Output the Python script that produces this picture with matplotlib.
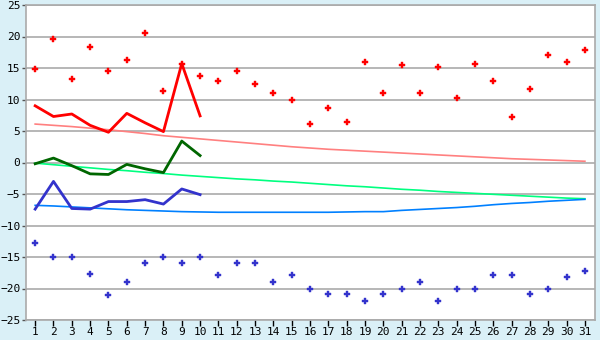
import matplotlib
matplotlib.use("Agg")
import matplotlib.pyplot as plt

days = list(range(1, 32))
obs_days = list(range(1, 11))

max_points = [14.8, 19.6, 13.2, 18.3, 14.6, 16.2, 20.5, 11.4, 15.6, 13.8,
              12.9, 14.6, 12.4, 11.0, 9.9, 6.1, 8.7, 6.4, 15.9, 11.0,
              15.4, 11.0, 15.1, 10.2, 15.7, 13.0, 7.3, 11.7, 17.0, 16.0, 17.9]
min_points = [-12.8, -15.0, -15.0, -17.7, -21.1, -18.9, -16.0, -15.0, -16.0, -15.0,
              -17.9, -16.0, -16.0, -19.0, -17.9, -20.0, -20.9, -20.9, -22.0, -20.9,
              -20.0, -19.0, -22.0, -20.0, -20.0, -17.9, -17.9, -20.9, -20.1, -18.2, -17.3]

max_line = [9.0, 7.3, 7.7, 5.9, 4.8, 7.8, 6.3, 4.9, 15.7, 7.4]
mean_line = [-0.2, 0.7, -0.5, -1.8, -1.9, -0.3, -1.0, -1.6, 3.4, 1.1]
min_line = [-7.4, -3.0, -7.3, -7.4, -6.2, -6.2, -5.9, -6.6, -4.2, -5.1]

norm_max = [6.1, 5.9, 5.7, 5.45, 5.2, 4.9, 4.6, 4.25, 4.0, 3.75,
            3.5, 3.25, 3.0, 2.75, 2.5, 2.3, 2.1, 1.95, 1.8, 1.65,
            1.5, 1.35, 1.2, 1.05, 0.9, 0.75, 0.6, 0.5, 0.4, 0.3, 0.2]
norm_mean = [-0.1, -0.35, -0.6, -0.85, -1.1, -1.3, -1.55, -1.75, -2.0, -2.2,
             -2.4, -2.6, -2.75, -2.95, -3.1, -3.3, -3.5, -3.7, -3.85, -4.05,
             -4.25, -4.4, -4.6, -4.75, -4.9, -5.05, -5.2, -5.35, -5.5, -5.65, -5.75]
norm_min = [-6.8, -6.9, -7.05, -7.2, -7.35, -7.5, -7.6, -7.7, -7.8, -7.85,
            -7.9, -7.9, -7.9, -7.9, -7.9, -7.9, -7.9, -7.85, -7.8, -7.8,
            -7.6, -7.45, -7.3, -7.15, -6.95, -6.7, -6.5, -6.35, -6.15, -6.0, -5.85]

y_ticks = list(range(-25, 30, 5))

bg = "#DAF0F7"
fig = plt.figure(figsize=(6, 3.4), dpi=100, facecolor=bg)
ax = fig.add_axes([26/600, 1 - 320/340, 569/600, 315/340])
ax.set_facecolor("white")

for t in y_ticks:
    ax.axhline(t, color="#AAAAAA", lw=1.2, zorder=1)

ax.plot(days, norm_max, color="#FF8080", lw=1.2, zorder=2)
ax.plot(days, norm_mean, color="#00FF80", lw=1.2, zorder=2)
ax.plot(days, norm_min, color="#0080FF", lw=1.2, zorder=2)

ax.plot(obs_days, max_line, color="#FF0000", lw=2.0, zorder=3)
ax.plot(obs_days, mean_line, color="#006600", lw=2.0, zorder=3)
ax.plot(obs_days, min_line, color="#3333CC", lw=2.0, zorder=3)

ax.plot(days, max_points, ls="none", marker="P", ms=5, color="#FF0000",
        markeredgewidth=0.3, zorder=4)
ax.plot(days, min_points, ls="none", marker="P", ms=5, color="#3333CC",
        markeredgewidth=0.3, zorder=4)

ax.set_xlim(0.5, 31.55)
ax.set_ylim(-25, 25)
ax.set_xticks(days)
ax.set_yticks(y_ticks)
for s in ax.spines.values():
    s.set_color("#AAAAAA")
    s.set_linewidth(1.2)
ax.tick_params(axis="both", colors="#000000", labelsize=8, width=1,
               direction="out")
ax.tick_params(axis="x", color="#000000", length=4, pad=1)
ax.tick_params(axis="y", color="#555555", length=3, pad=1)
for lbl in ax.get_xticklabels() + ax.get_yticklabels():
    lbl.set_family("DejaVu Sans Mono")

fig.savefig("out.png", dpi=100, facecolor=bg)
